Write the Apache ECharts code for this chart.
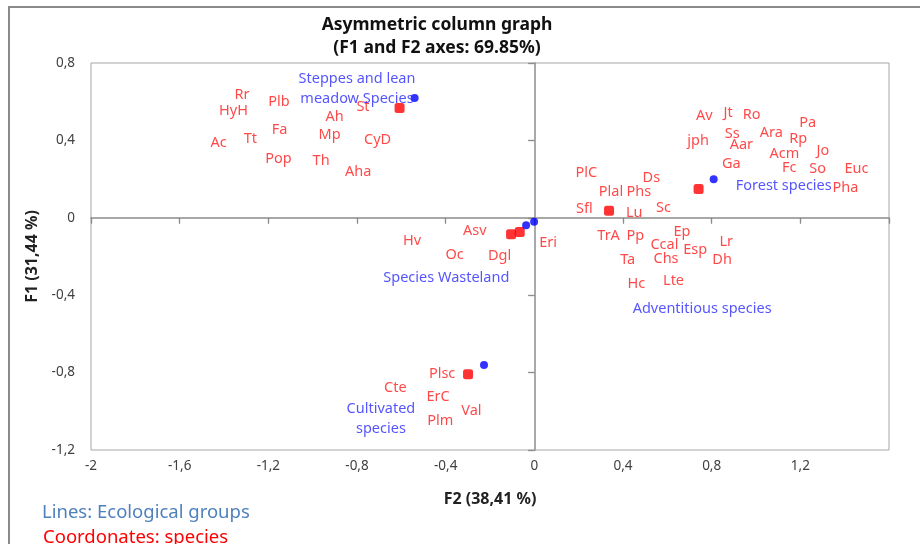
<!DOCTYPE html>
<html>
<head>
<meta charset="utf-8">
<script src="https://cdn.jsdelivr.net/npm/echarts@6/dist/echarts.min.js"></script>
<style>html,body{margin:0;padding:0;background:#fff;}#c{width:920px;height:544px;}</style>
</head>
<body>
<div id="c"></div>
<script>
// Species (red labels)
var speciesNames = ['Rr','HyH','Plb','St','Ah','Fa','Mp','Ac','Tt','CyD','Pop','Th','Aha',
  'Av','Jt','Ro','Pa','Ss','Ara','Rp','jph','Aar','Acm','Jo','Ga','Fc','So','Euc','PlC','Ds','Pha','Plal','Phs','Sfl','Lu','Sc',
  'Ep','TrA','Pp','Ccal','Esp','Lr','Ta','Chs','Dh','Hc','Lte',
  'Asv','Hv','Oc','Dgl','Eri',
  'Plsc','Cte','ErC','Val','Plm'];
var speciesX = [-1.319,-1.357,-1.152,-0.773,-0.901,-1.149,-0.924,-1.424,-1.281,-0.707,-1.154,-0.962,-0.795,
  0.767,0.874,0.980,1.233,0.893,1.069,1.190,0.739,0.934,1.128,1.302,0.889,1.150,1.278,1.453,0.235,0.528,1.403,0.346,0.471,0.226,0.451,0.583,
  0.666,0.335,0.456,0.587,0.726,0.866,0.421,0.594,0.847,0.460,0.628,
  -0.269,-0.552,-0.360,-0.157,0.062,
  -0.416,-0.627,-0.434,-0.284,-0.424];
var speciesY = [0.637,0.552,0.598,0.573,0.521,0.452,0.427,0.387,0.406,0.401,0.306,0.292,0.237,
  0.525,0.542,0.533,0.490,0.435,0.440,0.406,0.397,0.375,0.332,0.345,0.277,0.260,0.253,0.253,0.232,0.208,0.154,0.134,0.134,0.048,0.027,0.053,
  -0.073,-0.093,-0.093,-0.138,-0.167,-0.124,-0.219,-0.214,-0.219,-0.344,-0.327,
  -0.068,-0.119,-0.193,-0.198,-0.130,
  -0.808,-0.878,-0.928,-0.997,-1.050];

// Ecological groups (blue labels)
var groupNames = ['Steppes and lean\nmeadow Species','Forest species','Species Wasteland','Adventitious species','Cultivated\nspecies'];
var groupX = [-0.800, 1.125, -0.397, 0.757, -0.692];
var groupY = [0.668, 0.165, -0.308, -0.472, -1.041];

// Blue points
var bluePtX = [-0.540, 0.809, -0.037, -0.001, -0.227];
var bluePtY = [0.619, 0.199, -0.038, -0.021, -0.761];
// Red points
var redPtX = [-0.608, 0.741, 0.337, -0.105, -0.066, -0.299];
var redPtY = [0.568, 0.149, 0.036, -0.085, -0.073, -0.808];

// Axis ticks
var xMin = -2, xMax = 1.6, xStep = 0.4;
var yMin = -1.2, yMax = 0.8, yStep = 0.4;

function zip(a, b, n) { return a.map(function (v, i) { return n ? { name: n[i], value: [v, b[i]] } : [v, b[i]]; }); }
function fmt(v) { var r = Math.round(v * 10) / 10; return String(r).replace('.', ','); }

var FONT = '"Noto Sans", sans-serif';
var RED = '#ff1a1a', BLUE = '#2b2bff';

var chart = echarts.init(document.getElementById('c'), null, { renderer: 'canvas' });
var gridL = 91, gridT = 63, gridW = 798, gridH = 387;
var baseX = { type: 'value', min: xMin, max: xMax, interval: xStep, splitLine: { show: false } };
var baseY = { type: 'value', min: yMin, max: yMax, interval: yStep, splitLine: { show: false } };
function ext(a, b) { var o = {}; for (var k in a) o[k] = a[k]; for (var k2 in b) o[k2] = b[k2]; return o; }

chart.setOption({
  animation: false,
  backgroundColor: '#fff',
  grid: { left: gridL, top: gridT, width: gridW, height: gridH, show: true, borderColor: '#a6a6a6', borderWidth: 1, backgroundColor: 'transparent' },
  xAxis: [
    ext(baseX, { axisLine: { onZero: true, lineStyle: { color: '#8c8c8c', width: 1.5 } },
      axisTick: { show: true, length: 6, lineStyle: { color: '#8c8c8c', width: 1.2 } }, axisLabel: { show: false } }),
    ext(baseX, { position: 'bottom', axisLine: { show: false, onZero: false }, axisTick: { show: false },
      axisLabel: { show: true, margin: 9, fontFamily: FONT, fontSize: 13.5, color: '#404040',
        formatter: function (v) { return v > 1.5 ? '' : fmt(v); } },
      name: 'F2 (38,41 %)', nameLocation: 'middle', nameGap: 41,
      nameTextStyle: { fontFamily: FONT, fontSize: 16, fontWeight: 'bold', color: '#222' } }),
    ext(baseX, { axisLine: { show: false, onZero: true }, axisTick: { show: true, inside: true, length: 5, lineStyle: { color: '#8c8c8c', width: 1.2 } }, axisLabel: { show: false } })
  ],
  yAxis: [
    ext(baseY, { axisLine: { onZero: true, lineStyle: { color: '#8c8c8c', width: 1.5 } },
      axisTick: { show: true, length: 6, lineStyle: { color: '#8c8c8c', width: 1.2 } }, axisLabel: { show: false } }),
    ext(baseY, { position: 'left', axisLine: { show: false, onZero: false }, axisTick: { show: false },
      axisLabel: { show: true, margin: 16, fontFamily: FONT, fontSize: 13.5, color: '#404040', formatter: fmt },
      name: 'F1 (31,44 %)', nameLocation: 'middle', nameGap: 50, nameRotate: 90,
      nameTextStyle: { fontFamily: FONT, fontSize: 16, fontWeight: 'bold', color: '#222' } }),
    ext(baseY, { axisLine: { show: false, onZero: true }, axisTick: { show: true, inside: true, length: 6, lineStyle: { color: '#8c8c8c', width: 1.2 } }, axisLabel: { show: false } })
  ],
  series: [
    { type: 'scatter', name: 'redPts', symbol: 'roundRect', symbolSize: 10, itemStyle: { color: '#ff0000' },
      data: zip(redPtX, redPtY), z: 3 },
    { type: 'scatter', name: 'bluePts', symbol: 'circle', symbolSize: 8, itemStyle: { color: '#0000ff' },
      data: zip(bluePtX, bluePtY), z: 3 },
    { type: 'scatter', name: 'species', symbolSize: 1, itemStyle: { color: 'rgba(0,0,0,0)' }, z: 4,
      label: { show: true, position: 'inside', formatter: '{b}', fontFamily: FONT, fontSize: 14.5, color: RED },
      data: zip(speciesX, speciesY, speciesNames) },
    { type: 'scatter', name: 'groups', symbolSize: 1, itemStyle: { color: 'rgba(0,0,0,0)' }, z: 5,
      label: { show: true, position: 'inside', formatter: '{b}', fontFamily: FONT, fontSize: 14.5, color: BLUE, lineHeight: 20, align: 'center' },
      data: zip(groupX, groupY, groupNames) }
  ],
  graphic: [
    { type: 'rect', shape: { x: 9, y: 7, width: 960, height: 600 }, style: { fill: 'none', stroke: '#8a8a8a', lineWidth: 2 }, silent: true, z: -10 },
    { type: 'text', x: 437, y: 25, style: { text: 'Asymmetric column graph', fontFamily: FONT, fontSize: 17.5, fontWeight: 'bold', fill: '#111', align: 'center', verticalAlign: 'middle' } },
    { type: 'text', x: 437, y: 48, style: { text: '(F1 and F2 axes: 69.85%)', fontFamily: FONT, fontSize: 17.5, fontWeight: 'bold', fill: '#111', align: 'center', verticalAlign: 'middle' } },
    { type: 'text', x: 42, y: 513, style: { text: 'Lines: Ecological groups', fontFamily: FONT, fontSize: 18.5, fill: '#4f81bd', verticalAlign: 'middle' } },
    { type: 'text', x: 43, y: 538, style: { text: 'Coordonates: species', fontFamily: FONT, fontSize: 18.5, fill: '#ff0000', verticalAlign: 'middle' } }
  ]
});
</script>
</body>
</html>
